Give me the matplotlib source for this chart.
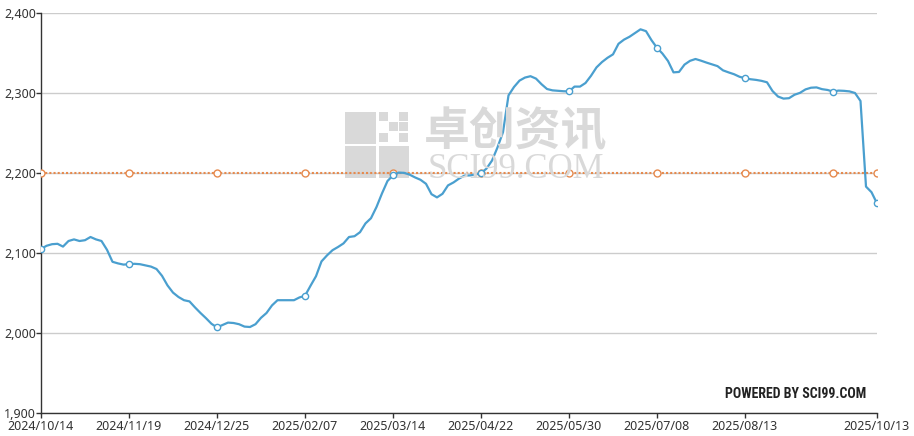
import matplotlib
matplotlib.use("Agg")
import matplotlib.pyplot as plt
import matplotlib.patches as patches
import numpy as np

# ---------------------------------------------------------
# data (one point per ~2 trading days)
price = [
    2105, 2109, 2111, 2111.5, 2108, 2115, 2117, 2115, 2116, 2120,
    2117, 2115, 2104, 2089, 2087, 2085.5, 2086, 2086.5, 2086, 2084.5,
    2083, 2080, 2071.5, 2059.5, 2050.5, 2045, 2041, 2039.5, 2032, 2025,
    2018.5, 2011.5, 2007, 2010, 2013, 2012.5, 2011, 2008, 2007.5, 2011,
    2019, 2025, 2034.5, 2041, 2041, 2041, 2041, 2044.5, 2046.5, 2059,
    2071, 2089.5, 2097, 2103.5, 2107.5, 2112, 2120, 2121, 2126, 2137,
    2143.5, 2157.5, 2174.5, 2190, 2197, 2200.5, 2200.2, 2198, 2194.5, 2191.5,
    2186.5, 2173.5, 2169.5, 2174, 2184.5, 2188.2, 2193, 2196.7, 2197, 2198,
    2200, 2205.5, 2215.5, 2232, 2251, 2297, 2307.5, 2315.5, 2319.3, 2321,
    2318, 2311, 2305, 2303.3, 2302.7, 2302.2, 2302, 2308, 2308, 2312.5,
    2321.5, 2332, 2338.7, 2344, 2348.3, 2361.5, 2366.7, 2370.3, 2375, 2379.6,
    2377.3, 2366, 2356.5, 2349.2, 2340, 2325.8, 2326.3, 2335.5, 2340.2, 2342.5,
    2340.4, 2338, 2335.8, 2333.6, 2328.3, 2325.8, 2323.5, 2320.3, 2318.5, 2317.2,
    2316.4, 2315.2, 2313.4, 2302.5, 2295.6, 2293, 2293.5, 2297.8, 2300.2, 2304.5,
    2306.6, 2307, 2304.8, 2303.8, 2301.8, 2303, 2302.7, 2302, 2300, 2290,
    2183, 2176, 2162,
]
ref_level = 2200
tick_labels = ["2024/10/14", "2024/11/19", "2024/12/25", "2025/02/07",
               "2025/03/14", "2025/04/22", "2025/05/30", "2025/07/08",
               "2025/08/13", "2025/10/13"]
y_ticks = [1900, 2000, 2100, 2200, 2300, 2400]
# ---------------------------------------------------------

n = len(price)
step = 16
x = np.arange(n)
ref = [ref_level] * n
mark_idx = list(range(0, n - 1, step)) + [n - 1]
tick_idx = list(range(0, 9 * step, step)) + [n - 1]

W, H = 914, 436
fig = plt.figure(figsize=(W / 100, H / 100), dpi=100)
ax = fig.add_axes([41 / W, 1 - 413 / H, (877 - 41) / W, (413 - 13) / H])

def fx(px):
    return px / W

def fy(py):
    return 1 - py / H

# watermark (logo + text) behind the lines
wm = "#d9d9d9"
blocks = [(345, 112, 31, 32), (345, 146, 31, 32), (379, 146, 30, 32)]
for bx, by, bw, bh in blocks:
    fig.add_artist(patches.Rectangle((fx(bx), fy(by + bh)), bw / W, bh / H,
                                     transform=fig.transFigure, color=wm, lw=0, zorder=0))
cells = [(0, 0), (2, 0), (1, 1), (2, 1), (0, 2), (2, 2)]
for cx, cy in cells:
    fig.add_artist(patches.Rectangle((fx(379 + cx * 10), fy(112 + cy * 10.5 + 9)), 9 / W, 9 / H,
                                     transform=fig.transFigure, color=wm, lw=0, zorder=0))
fig.text(fx(516), fy(146), "卓创资讯", fontsize=33, fontweight="bold", color=wm,
         ha="center", va="baseline", family=["Noto Sans CJK SC", "DejaVu Sans"], zorder=0)
fig.text(fx(516), fy(178), "SCI99.COM", fontsize=25, color=wm, ha="center", va="baseline",
         family="Liberation Serif", zorder=0)

ax.set_facecolor("none")
fig.patch.set_facecolor("white")

# lines
ax.plot(x, ref, color="#e68a4e", lw=1.5, linestyle=(0, (1, 1)),
        marker="o", markevery=mark_idx, markersize=5, markerfacecolor="white",
        markeredgecolor="#e68a4e", markeredgewidth=1, zorder=3)
ax.plot(x, price, color="#4a9fcf", lw=1.6, solid_joinstyle="round",
        marker="o", markevery=mark_idx, markersize=4.5, markerfacecolor="white",
        markeredgecolor="#4a9fcf", markeredgewidth=1, zorder=4)

ax.set_xlim(0, n - 1)
ax.set_ylim(1900, 2400)
ax.set_yticks(y_ticks)
ax.set_yticklabels([f"{v:,}" for v in y_ticks])
ax.set_xticks(tick_idx)
ax.set_xticklabels(tick_labels)

ax.grid(axis="y", color="#cccccc", lw=1)
ax.set_axisbelow(True)
for s in ["top", "right"]:
    ax.spines[s].set_visible(False)
for s in ["left", "bottom"]:
    ax.spines[s].set_color("#333333")
    ax.spines[s].set_linewidth(1)
ax.tick_params(axis="y", length=3.5, width=1, color="#333333", pad=0,
               labelsize=9, labelcolor="#333333")
ax.tick_params(axis="x", length=3.5, width=1, color="#333333", pad=1.5,
               labelsize=9, labelcolor="#333333")
for lab in ax.get_xticklabels() + ax.get_yticklabels():
    lab.set_family("Noto Sans")

fig.text(fx(866), fy(394), "POWERED BY SCI99.COM", fontsize=10, fontweight="bold",
         color="#222222", ha="right", va="center",
         family=["Liberation Sans Narrow", "Roboto Condensed", "DejaVu Sans"])

fig.savefig("out.png", dpi=100)
